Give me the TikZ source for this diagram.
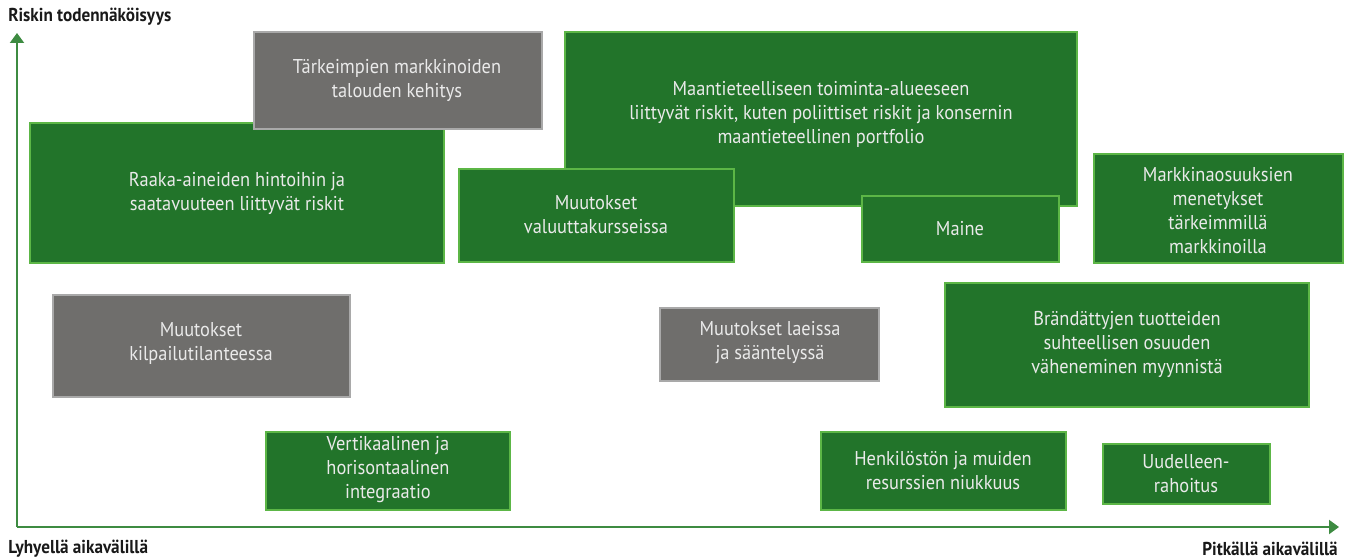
\documentclass[tikz,border=0pt]{standalone}
\usepackage{fontspec}
\setmainfont{PT Sans}[FakeStretch=0.92]
\usepackage{tikz}
\usetikzlibrary{arrows.meta}

\definecolor{boxgreen}{HTML}{22742A}
\definecolor{edgegreen}{HTML}{5CB646}
\definecolor{boxgrey}{HTML}{6F6E6C}
\definecolor{edgegrey}{HTML}{A9A9A9}
\definecolor{axisgreen}{HTML}{3D8B41}
\definecolor{lighttext}{HTML}{EAEAEA}

\tikzset{
  greenbox/.style={fill=boxgreen, draw=edgegreen, line width=1.8pt},
  greybox/.style={fill=boxgrey, draw=edgegrey, line width=1.8pt},
  boxtext/.style={text=lighttext, align=center, inner sep=0pt, font=\fontsize{15}{18}\selectfont},
  axislabel/.style={inner sep=0pt, text=black!90, font=\bfseries\fontsize{14}{16}\selectfont},
  axisline/.style={draw=axisgreen, line width=1.5pt}
}

\begin{document}
\begin{tikzpicture}[x=0.75pt,y=0.75pt,yscale=-1,xscale=1]
\useasboundingbox (0,0) rectangle (1346,560);

% Axes
\coordinate (origin) at (17,527);
\coordinate (ytop) at (17,33);
\coordinate (xend) at (1339,527);
\draw [axisline, -{Triangle[width=10.5pt,length=7.5pt]}] (origin) -- (ytop);
\draw [axisline, -{Triangle[width=10.5pt,length=7.5pt]}] (origin) -- (xend);

% Axis labels
\node [axislabel, anchor=west] (ylabel) at (8,17) {Riskin todennäköisyys};
\node [axislabel, anchor=west] (shortterm) at (8,549) {Lyhyellä aikavälillä};
\node [axislabel, anchor=east] (longterm) at (1338,549) {Pitkällä aikavälillä};

%Shape: Rectangle [raaka-aineet]
\draw [greenbox] (30,123) rectangle (444,263);
% Text Node
\node [boxtext] (raaka) at (237,193) {Raaka-aineiden hintoihin ja\\saatavuuteen liittyvät riskit};

%Shape: Rectangle [markkinat]
\draw [greybox] (254,32) rectangle (542,129);
% Text Node
\node [boxtext] (markkinat) at (397,80) {Tärkeimpien markkinoiden\\talouden kehitys};

%Shape: Rectangle [maantiede]
\draw [greenbox] (565,32) rectangle (1077,206);
% Text Node
\node [boxtext] (maantiede) at (821,114) {Maantieteelliseen toiminta-alueeseen\\liittyvät riskit, kuten poliittiset riskit ja konsernin\\maantieteellinen portfolio};

%Shape: Rectangle [valuutta]
\draw [greenbox] (459,169) rectangle (734,262);
% Text Node
\node [boxtext] (valuutta) at (596,215) {Muutokset\\valuuttakursseissa};

%Shape: Rectangle [maine]
\draw [greenbox] (862,196) rectangle (1059,262);
% Text Node
\node [boxtext] (maine) at (960,229) {Maine};

%Shape: Rectangle [osuudet]
\draw [greenbox] (1094,154) rectangle (1343,263);
% Text Node
\node [boxtext] (osuudet) at (1218,211) {Markkinaosuuksien\\menetykset\\tärkeimmillä\\markkinoilla};

%Shape: Rectangle [kilpailu]
\draw [greybox] (53,295) rectangle (350,397);
% Text Node
\node [boxtext] (kilpailu) at (201,343) {Muutokset\\kilpailutilanteessa};

%Shape: Rectangle [laki]
\draw [greybox] (660,308) rectangle (879,381);
% Text Node
\node [boxtext] (laki) at (770,343) {Muutokset laeissa\\ja sääntelyssä};

%Shape: Rectangle [brandi]
\draw [greenbox] (945,283) rectangle (1309,407);
% Text Node
\node [boxtext] (brandi) at (1127,344) {Brändättyjen tuotteiden\\suhteellisen osuuden\\väheneminen myynnistä};

%Shape: Rectangle [integraatio]
\draw [greenbox] (266,432) rectangle (510,510);
% Text Node
\node [boxtext] (integraatio) at (388,470) {Vertikaalinen ja\\horisontaalinen\\integraatio};

%Shape: Rectangle [resurssit]
\draw [greenbox] (821,432) rectangle (1066,510);
% Text Node
\node [boxtext] (resurssit) at (943,471) {Henkilöstön ja muiden\\resurssien niukkuus};

%Shape: Rectangle [rahoitus]
\draw [greenbox] (1103,444) rectangle (1270,504);
% Text Node
\node [boxtext] (rahoitus) at (1186,474) {Uudelleen-\\rahoitus};

\end{tikzpicture}
\end{document}
